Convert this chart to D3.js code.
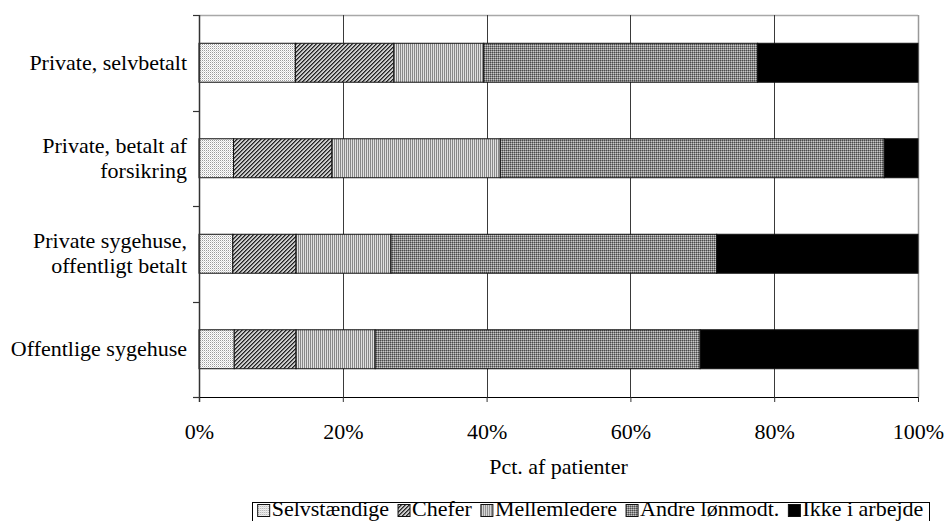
<!DOCTYPE html>
<html>
<head>
<meta charset="utf-8">
<script src="https://cdn.jsdelivr.net/npm/d3@7"></script>
<style>
  html, body { margin: 0; padding: 0; background: #fff; }
  svg { display: block; font-family: "Liberation Serif", "Times New Roman", serif; }
</style>
</head>
<body>
<svg id="chart" width="945" height="521"></svg>
<script>
// Categories (label lines) and the share of patients in each occupational group, in percent
const categories = ["Private, selvbetalt", "Private, betalt af forsikring", "Private sygehuse, offentligt betalt", "Offentlige sygehuse"];
const categoryLines = [["Private, selvbetalt"], ["Private, betalt af", "forsikring"], ["Private sygehuse,", "offentligt betalt"], ["Offentlige sygehuse"]];
const seriesNames = ["Selvstændige", "Chefer", "Mellemledere", "Andre lønmodt.", "Ikke i arbejde"];
const selvstaendige = [13.4, 4.8, 4.7, 4.9];
const chefer = [13.7, 13.7, 8.8, 8.6];
const mellemledere = [12.5, 23.4, 13.2, 11.0];
const andreLoenmodt = [38.1, 53.4, 45.3, 45.2];
const ikkeIArbejde = [22.3, 4.7, 28.0, 30.3];
const xTicks = [0, 20, 40, 60, 80, 100];
const xTitle = "Pct. af patienter";

const seriesValues = [selvstaendige, chefer, mellemledere, andreLoenmodt, ikkeIArbejde];
const rows = categories.map((c, i) => {
  const r = { category: c };
  seriesNames.forEach((s, j) => { r[s] = seriesValues[j][i]; });
  return r;
});
const stacked = d3.stack().keys(seriesNames)(rows);

const svg = d3.select("#chart");
const plot = { left: 199, right: 918, top: 15, bottom: 397 };
const fontSize = 22;
const fontFamily = "Liberation Serif, Times New Roman, serif";

const x = d3.scaleLinear().domain([0, 100]).range([plot.left, plot.right]);
const y = d3.scaleBand().domain(categories).range([plot.top, plot.bottom])
  .paddingInner(0.592).paddingOuter(0.296);

// Fill patterns for the groups
const defs = svg.append("defs");
function pattern(id, w, h, build) {
  const p = defs.append("pattern").attr("id", id).attr("patternUnits", "userSpaceOnUse")
    .attr("width", w).attr("height", h);
  build(p);
}
pattern("pSelv", 2, 2, p => {
  p.append("rect").attr("width", 2).attr("height", 2).attr("fill", "#ffffff");
  p.append("rect").attr("x", 0).attr("y", 0).attr("width", 1).attr("height", 1).attr("fill", "#9a9a9a");
  p.append("rect").attr("x", 1).attr("y", 1).attr("width", 1).attr("height", 1).attr("fill", "#d8d8d8");
});
pattern("pChef", 4, 4, p => {
  p.append("rect").attr("width", 4).attr("height", 4).attr("fill", "#cccccc");
  [[3, 0], [2, 1], [1, 2], [0, 3]].forEach(([a, b]) =>
    p.append("rect").attr("x", a).attr("y", b).attr("width", 1).attr("height", 1).attr("fill", "#222"));
  [[0, 0], [3, 1], [2, 2], [1, 3]].forEach(([a, b]) =>
    p.append("rect").attr("x", a).attr("y", b).attr("width", 1).attr("height", 1).attr("fill", "#6a6a6a"));
});
pattern("pMellem", 2, 2, p => {
  p.append("rect").attr("width", 2).attr("height", 2).attr("fill", "#e0e0e0");
  p.append("rect").attr("x", 0).attr("width", 1).attr("height", 2).attr("fill", "#888888");
});
pattern("pAndre", 2, 2, p => {
  p.append("rect").attr("width", 2).attr("height", 2).attr("fill", "#8a8a8a");
  p.append("rect").attr("x", 0).attr("y", 0).attr("width", 1).attr("height", 1).attr("fill", "#4a4a4a");
  p.append("rect").attr("x", 1).attr("y", 1).attr("width", 1).attr("height", 1).attr("fill", "#c8c8c8");
});
const fills = {
  "Selvstændige": "url(#pSelv)",
  "Chefer": "url(#pChef)",
  "Mellemledere": "url(#pMellem)",
  "Andre lønmodt.": "url(#pAndre)",
  "Ikke i arbejde": "#000000"
};

// Plot area frame (top and right in light grey)
svg.append("line").attr("x1", plot.left).attr("x2", plot.right).attr("y1", plot.top + 0.5).attr("y2", plot.top + 0.5)
  .attr("stroke", "#a8a8a8").attr("stroke-width", 1.5);
svg.append("line").attr("x1", plot.right + 0.5).attr("x2", plot.right + 0.5).attr("y1", plot.top).attr("y2", plot.bottom)
  .attr("stroke", "#999").attr("stroke-width", 1.5);

// Vertical gridlines
svg.append("g").selectAll("line").data(xTicks.filter(t => t > 0 && t < 100)).join("line")
  .attr("x1", d => Math.round(x(d)) + 0.5).attr("x2", d => Math.round(x(d)) + 0.5)
  .attr("y1", plot.top).attr("y2", plot.bottom)
  .attr("stroke", "#3a3a3a").attr("stroke-width", 1);

// Stacked bars
svg.append("g").selectAll("g").data(stacked).join("g")
  .attr("fill", d => fills[d.key])
  .selectAll("rect").data(d => d).join("rect")
  .attr("x", d => x(d[0])).attr("width", d => x(d[1]) - x(d[0]))
  .attr("y", d => y(d.data.category)).attr("height", y.bandwidth())
  .attr("stroke", "#111").attr("stroke-width", 1);

// Left axis with ticks at the band boundaries
const yBounds = d3.range(categories.length + 1).map(i => plot.top + i * y.step());
svg.append("line").attr("x1", plot.left + 0.5).attr("x2", plot.left + 0.5).attr("y1", plot.top).attr("y2", plot.bottom + 5)
  .attr("stroke", "#333").attr("stroke-width", 1.5);
svg.append("g").selectAll("line").data(yBounds).join("line")
  .attr("x1", plot.left - 6).attr("x2", plot.left)
  .attr("y1", d => Math.round(d) + 0.5).attr("y2", d => Math.round(d) + 0.5)
  .attr("stroke", "#333").attr("stroke-width", 1.2);

// Bottom axis
const xAxis = svg.append("g").attr("transform", `translate(0,${plot.bottom})`)
  .call(d3.axisBottom(x).tickValues(xTicks).tickSize(5).tickSizeOuter(0).tickFormat(d => d + "%"));
xAxis.attr("font-family", fontFamily).attr("font-size", fontSize);
xAxis.select(".domain").attr("stroke", "#000").attr("stroke-width", 1.2);
xAxis.selectAll(".tick line").attr("stroke", "#333");
xAxis.selectAll(".tick text")
  .attr("y", 42).attr("dy", null)
  .attr("font-family", fontFamily)
  .attr("font-size", fontSize).attr("fill", "#000");

// Category labels
const labelG = svg.append("g").attr("font-size", fontSize).attr("font-family", fontFamily).attr("text-anchor", "end");
categories.forEach((c, i) => {
  const lines = categoryLines[i];
  const cy = y(c) + y.bandwidth() / 2;
  const lh = 25;
  lines.forEach((ln, k) => {
    labelG.append("text").attr("x", 187)
      .attr("y", cy + (k - (lines.length - 1) / 2) * lh + 7)
      .text(ln);
  });
});

// Axis title
svg.append("text").attr("x", (plot.left + plot.right) / 2).attr("y", 474)
  .attr("text-anchor", "middle").attr("font-size", fontSize).attr("font-family", fontFamily).text(xTitle);

// Legend
const legend = { left: 252, right: 929, top: 502, height: 30 };
svg.append("rect").attr("x", legend.left + 0.5).attr("y", legend.top + 0.5)
  .attr("width", legend.right - legend.left).attr("height", legend.height)
  .attr("fill", "#fff").attr("stroke", "#000").attr("stroke-width", 1);
const lg = svg.append("g").attr("font-family", fontFamily);
const items = lg.selectAll("g").data(seriesNames).join("g");
items.append("rect").attr("width", 12).attr("height", 12).attr("y", 504.5)
  .attr("fill", d => fills[d]).attr("stroke", "#111").attr("stroke-width", 1);
items.append("text").attr("x", 14).attr("y", 516).attr("font-size", fontSize).text(d => d);
const gap = 9;
const widths = [];
items.each(function () { widths.push(14 + d3.select(this).select("text").node().getComputedTextLength()); });
const total = d3.sum(widths) + gap * (widths.length - 1);
let cx = legend.left + (legend.right - legend.left - total) / 2;
items.each(function (d, i) {
  d3.select(this).attr("transform", `translate(${cx},0)`);
  cx += widths[i] + gap;
});
</script>
</body>
</html>
